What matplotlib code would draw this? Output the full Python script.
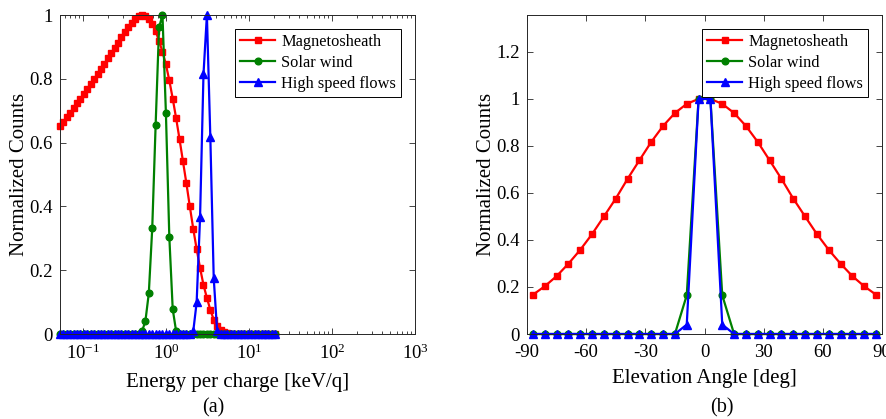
import matplotlib
matplotlib.use("Agg")
import matplotlib.pyplot as plt
from matplotlib.ticker import LogLocator, FixedLocator, FuncFormatter

plt.rcParams["font.family"] = ["Liberation Serif", "DejaVu Serif"]
plt.rcParams["mathtext.fontset"] = "custom"
plt.rcParams["mathtext.rm"] = "Liberation Serif"
plt.rcParams["mathtext.it"] = "Liberation Serif:italic"
plt.rcParams["axes.unicode_minus"] = False

# energy bins [keV/q]
energy = [
    0.0524, 0.0576, 0.0633, 0.0696, 0.0765, 0.0841, 0.0925, 0.1017,
    0.1118, 0.1230, 0.1352, 0.1487, 0.1634, 0.1797, 0.1976, 0.2173,
    0.2389, 0.2627, 0.2888, 0.3176, 0.3491, 0.3839, 0.4221, 0.4641,
    0.5103, 0.5610, 0.6169, 0.6783, 0.7457, 0.8199, 0.9016, 0.9913,
    1.090, 1.198, 1.318, 1.449, 1.593, 1.752, 1.926, 2.118,
    2.328, 2.560, 2.815, 3.095, 3.403, 3.741, 4.114, 4.523,
    4.973, 5.468, 6.012, 6.610, 7.268, 7.991, 8.786, 9.661,
    10.62, 11.68, 12.84, 14.12, 15.52, 17.07, 18.77, 20.64,
]

msh_energy = [
    0.652, 0.665, 0.679, 0.694, 0.708, 0.723, 0.738, 0.753,
    0.768, 0.784, 0.800, 0.815, 0.831, 0.847, 0.864, 0.880,
    0.897, 0.913, 0.930, 0.946, 0.961, 0.975, 0.987, 0.996,
    1.000, 0.997, 0.988, 0.972, 0.950, 0.918, 0.885, 0.845,
    0.795, 0.738, 0.676, 0.610, 0.541, 0.472, 0.400, 0.330,
    0.266, 0.207, 0.154, 0.113, 0.076, 0.045, 0.024, 0.012,
    0.006, 0.003, 0, 0, 0, 0, 0, 0,
    0, 0, 0, 0, 0, 0, 0, 0,
]

sw_energy = [
    0, 0, 0, 0, 0, 0, 0, 0,
    0, 0, 0, 0, 0, 0, 0, 0,
    0, 0, 0, 0, 0, 0, 0, 0,
    0.008, 0.04, 0.128, 0.331, 0.656, 0.961, 1.0, 0.694,
    0.305, 0.078, 0.008, 0, 0, 0, 0, 0,
    0, 0, 0, 0, 0, 0, 0, 0,
    0, 0, 0, 0, 0, 0, 0, 0,
    0, 0, 0, 0, 0, 0, 0, 0,
]

hsf_energy = [
    0, 0, 0, 0, 0, 0, 0, 0,
    0, 0, 0, 0, 0, 0, 0, 0,
    0, 0, 0, 0, 0, 0, 0, 0,
    0, 0, 0, 0, 0, 0, 0, 0,
    0, 0, 0, 0, 0, 0, 0, 0.008,
    0.099, 0.366, 0.814, 1.0, 0.619, 0.175, 0.008, 0,
    0, 0, 0, 0, 0, 0, 0, 0,
    0, 0, 0, 0, 0, 0, 0, 0,
]

# elevation bins [deg]
elevation = [
    -87, -81, -75, -69, -63, -57, -51, -45, -39, -33, -27, -21, -15, -9, -3,
    3, 9, 15, 21, 27, 33, 39, 45, 51, 57, 63, 69, 75, 81, 87,
]

msh_elev = [
    0.167, 0.203, 0.246, 0.299, 0.358, 0.425, 0.500, 0.576, 0.660, 0.739,
    0.817, 0.885, 0.940, 0.979, 1.0,
    1.0, 0.979, 0.940, 0.885, 0.817, 0.739, 0.660, 0.576, 0.500, 0.425,
    0.358, 0.299, 0.246, 0.203, 0.167,
]

sw_elev = [
    0, 0, 0, 0, 0, 0, 0, 0, 0, 0, 0, 0, 0, 0.165, 1.0,
    1.0, 0.165, 0, 0, 0, 0, 0, 0, 0, 0, 0, 0, 0, 0, 0,
]

hsf_elev = [
    0, 0, 0, 0, 0, 0, 0, 0, 0, 0, 0, 0, 0, 0.04, 1.0,
    1.0, 0.04, 0, 0, 0, 0, 0, 0, 0, 0, 0, 0, 0, 0, 0,
]

labels = ["Magnetosheath", "Solar wind", "High speed flows"]
colors = ["#ff0000", "#008000", "#0000ff"]
markers = ["s", "o", "^"]
msizes = [4.8, 4.8, 5.8]


def plain(v, pos):
    return "%g" % round(v, 2)


def style_axes(ax):
    ax.tick_params(which="both", direction="in", top=True, right=True,
                   labelsize=13.5, color="#262626", width=0.6)
    ax.tick_params(axis="x", which="major", pad=7)
    ax.tick_params(axis="y", which="major", pad=5)
    ax.tick_params(which="major", length=4.5)
    ax.tick_params(which="minor", length=2.2)
    for s in ax.spines.values():
        s.set_linewidth(0.7)
        s.set_color("#262626")
    ax.set_ylabel("Normalized Counts", fontsize=15, labelpad=0.5)
    ax.legend(loc="upper right", fontsize=11.8, frameon=True, fancybox=False,
              edgecolor="black", framealpha=1, handlelength=2.1,
              borderaxespad=0.85, borderpad=0.3, labelspacing=0.3,
              handletextpad=0.4).get_frame().set_linewidth(0.7)


fig = plt.figure(figsize=(8.87, 4.19), dpi=100)
ax1 = fig.add_axes([60 / 887, 1 - 334 / 419, 355 / 887, 319 / 419])
ax2 = fig.add_axes([527 / 887, 1 - 334 / 419, 355 / 887, 319 / 419])

for vals, lab, c, m, ms in zip([msh_energy, sw_energy, hsf_energy], labels,
                               colors, markers, msizes):
    ax1.plot(energy, vals, color=c, marker=m, markersize=ms, linewidth=1.6,
             label=lab, clip_on=False)
ax1.set_xscale("log")
ax1.set_xlim(energy[0], 1000)
ax1.set_ylim(0, 1)
ax1.xaxis.set_major_locator(LogLocator(base=10, numticks=10))
ax1.xaxis.set_minor_locator(LogLocator(base=10, subs=range(2, 10), numticks=10))
ax1.yaxis.set_major_locator(FixedLocator([0, 0.2, 0.4, 0.6, 0.8, 1.0]))
ax1.yaxis.set_major_formatter(FuncFormatter(plain))
ax1.set_xlabel("Energy per charge [keV/q]", fontsize=15, labelpad=7)
style_axes(ax1)

for vals, lab, c, m, ms in zip([msh_elev, sw_elev, hsf_elev], labels,
                               colors, markers, msizes):
    ax2.plot(elevation, vals, color=c, marker=m, markersize=ms, linewidth=1.6,
             label=lab, clip_on=False)
ax2.set_xlim(-90, 90)
ax2.set_ylim(0, 1.357)
ax2.xaxis.set_major_locator(FixedLocator([-90, -60, -30, 0, 30, 60, 90]))
ax2.yaxis.set_major_locator(FixedLocator([0, 0.2, 0.4, 0.6, 0.8, 1.0, 1.2]))
ax2.yaxis.set_major_formatter(FuncFormatter(plain))
ax2.set_xlabel("Elevation Angle [deg]", fontsize=15, labelpad=6)
style_axes(ax2)

fig.text(213 / 887, 1 - 408 / 419, "(a)", fontsize=14.5, ha="center", va="center")
fig.text(722 / 887, 1 - 408 / 419, "(b)", fontsize=14.5, ha="center", va="center")

fig.savefig("out.png", dpi=100)
